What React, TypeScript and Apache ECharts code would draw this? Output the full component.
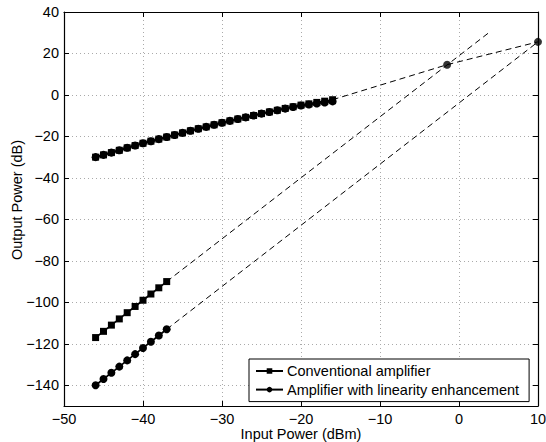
import React, { useEffect, useRef } from "react";
import * as echarts from "echarts";

// Input power (dBm) for the fundamental curves
const inputPower = [-46, -45, -44, -43, -42, -41, -40, -39, -38, -37, -36, -35, -34, -33, -32, -31, -30, -29, -28, -27, -26, -25, -24, -23, -22, -21, -20, -19, -18, -17, -16];
const fundConv = [-30.0, -28.9, -27.8, -26.7, -25.5, -24.4, -23.3, -22.3, -21.3, -20.3, -19.3, -18.3, -17.3, -16.3, -15.4, -14.4, -13.4, -12.5, -11.6, -10.8, -9.9, -9.0, -8.2, -7.4, -6.5, -5.7, -4.9, -4.3, -3.6, -3.0, -2.3];
const fundEnh = [-30.0, -28.9, -27.8, -26.7, -25.5, -24.4, -23.3, -22.3, -21.3, -20.3, -19.3, -18.3, -17.3, -16.3, -15.4, -14.4, -13.4, -12.5, -11.6, -10.8, -9.9, -9.0, -8.2, -7.4, -6.6, -5.8, -5.1, -4.6, -4.1, -3.6, -3.1];

// Input power (dBm) for the third-order intermodulation curves
const im3Input = [-46, -45, -44, -43, -42, -41, -40, -39, -38, -37];
const im3Conv = [-117, -114, -111, -108, -105, -102, -99, -96, -93, -90];
const im3Enh = [-140, -137, -134, -131, -128, -125, -122, -119, -116, -113];

// Dashed extrapolations
const extFundX = [-16, -1.5, 10, 11];
const extFundY = [-2.3, 14.6, 25.6, 26.8];
const extConvX = [-37, 3.7];
const extConvY = [-90, 29.8];
const extEnhX = [-37, 10, 11];
const extEnhY = [-113, 25.6, 28.6];

// Intercept points
const iip3X = [-1.5, 10];
const iip3Y = [14.6, 25.6];

// Axis ticks
const xTicks = [-50, -40, -30, -20, -10, 0, 10];
const yTicks = [-140, -120, -100, -80, -60, -40, -20, 0, 20, 40];

const X_TITLE = "Input Power (dBm)";
const Y_TITLE = "Output Power (dB)";
const LEG_CONV = "Conventional amplifier";
const LEG_ENH = "Amplifier with linearity enhancement";

const zip = (xs: number[], ys: number[]) => xs.map((x, i) => [x, ys[i]]);
const fmt = (v: number) => (v < 0 ? "\u2212" + Math.abs(v) : String(v));

const FONT = "'Liberation Sans', Arial, Helvetica, sans-serif";
const FS = 14.5;

export default function App() {
  const ref = useRef<HTMLDivElement>(null);
  useEffect(() => {
    if (!ref.current) return;
    const chart = echarts.init(ref.current, null, { renderer: "svg" });
    const gridLine = { show: true, lineStyle: { color: "#aaaaaa", type: [1, 3] as any, width: 1 } };
    const axisLine = { show: true, onZero: false, lineStyle: { color: "#000", width: 1.2 } };
    const tick = { show: true, inside: true, length: 5, lineStyle: { color: "#000", width: 1 } };
    const solid = { color: "#000", width: 1.7 };
    const dashed = { color: "#000", width: 1, type: [6, 4] as any };
    chart.setOption({
      animation: false,
      backgroundColor: "#fff",
      textStyle: { fontFamily: FONT },
      grid: { left: 64, right: 8, top: 12, bottom: 36, containLabel: false, outerBoundsMode: "none" },
      legend: {
        data: [LEG_CONV, LEG_ENH],
        orient: "vertical",
        left: 249,
        top: 359,
        padding: [4, 10, 4, 6],
        itemGap: 2.6,
        itemWidth: 27,
        itemHeight: 7,
        backgroundColor: "#fff",
        borderColor: "#000",
        borderWidth: 1,
        borderRadius: 0,
        textStyle: { fontSize: FS, color: "#000", fontFamily: FONT, lineHeight: 16, padding: [0, 0, 0, -1] },
      },
      xAxis: [
        {
          type: "value",
          min: -50,
          max: 10,
          interval: 10,
          position: "bottom",
          axisLine,
          axisTick: tick,
          splitLine: gridLine,
          axisLabel: { color: "#000", fontSize: FS, margin: 5, formatter: fmt, customValues: xTicks },
        },
        {
          type: "value",
          min: -50,
          max: 10,
          interval: 10,
          position: "top",
          axisLine,
          axisTick: tick,
          splitLine: { show: false },
          axisLabel: { show: false },
        },
      ],
      yAxis: [
        {
          type: "value",
          min: -150,
          max: 40,
          position: "left",
          axisLine,
          axisTick: { ...tick, customValues: yTicks },
          splitLine: gridLine,
          axisLabel: { color: "#000", fontSize: FS, margin: 5, formatter: fmt, customValues: yTicks },
        },
        {
          type: "value",
          min: -150,
          max: 40,
          position: "right",
          axisLine,
          axisTick: { ...tick, customValues: yTicks },
          splitLine: { show: false },
          axisLabel: { show: false },
        },
      ],
      graphic: [
        {
          type: "text",
          x: 17,
          y: 200,
          rotation: Math.PI / 2,
          style: {
            text: Y_TITLE,
            fontSize: FS,
            fontFamily: FONT,
            fill: "#000",
            textAlign: "center",
            textVerticalAlign: "middle",
          },
        },
        {
          type: "text",
          x: 301,
          y: 433.5,
          style: {
            text: X_TITLE,
            fontSize: FS,
            fontFamily: FONT,
            fill: "#000",
            textAlign: "center",
            textVerticalAlign: "middle",
          },
        },
      ],
      series: [
        {
          name: "extFund",
          type: "line",
          data: zip(extFundX, extFundY),
          symbol: "none",
          lineStyle: dashed,
          clip: false,
          z: 1,
        },
        {
          name: "extConv",
          type: "line",
          data: zip(extConvX, extConvY),
          symbol: "none",
          lineStyle: dashed,
          clip: false,
          z: 1,
        },
        {
          name: "extEnh",
          type: "line",
          data: zip(extEnhX, extEnhY),
          symbol: "none",
          lineStyle: dashed,
          clip: false,
          z: 1,
        },
        {
          name: "iip3",
          type: "scatter",
          data: zip(iip3X, iip3Y),
          symbol: "circle",
          symbolSize: 8,
          itemStyle: { color: "#000" },
          clip: false,
          z: 3,
        },
        {
          name: LEG_CONV,
          type: "line",
          data: zip(inputPower, fundConv),
          symbol: "rect",
          symbolSize: 7,
          showAllSymbol: true,
          itemStyle: { color: "#000" },
          lineStyle: solid,
          z: 3,
        },
        {
          name: LEG_ENH,
          type: "line",
          data: zip(inputPower, fundEnh),
          symbol: "circle",
          symbolSize: 8,
          showAllSymbol: true,
          itemStyle: { color: "#000" },
          lineStyle: solid,
          z: 3,
        },
        {
          name: LEG_CONV,
          type: "line",
          data: zip(im3Input, im3Conv),
          symbol: "rect",
          symbolSize: 7,
          showAllSymbol: true,
          itemStyle: { color: "#000" },
          lineStyle: solid,
          z: 3,
        },
        {
          name: LEG_ENH,
          type: "line",
          data: zip(im3Input, im3Enh),
          symbol: "circle",
          symbolSize: 8,
          showAllSymbol: true,
          itemStyle: { color: "#000" },
          lineStyle: solid,
          z: 3,
        },
      ],
    });
    return () => chart.dispose();
  }, []);
  return (
    <div
      ref={ref}
      style={{ position: "fixed", left: 0, top: 0, width: 546, height: 442, background: "#fff" }}
    />
  );
}
